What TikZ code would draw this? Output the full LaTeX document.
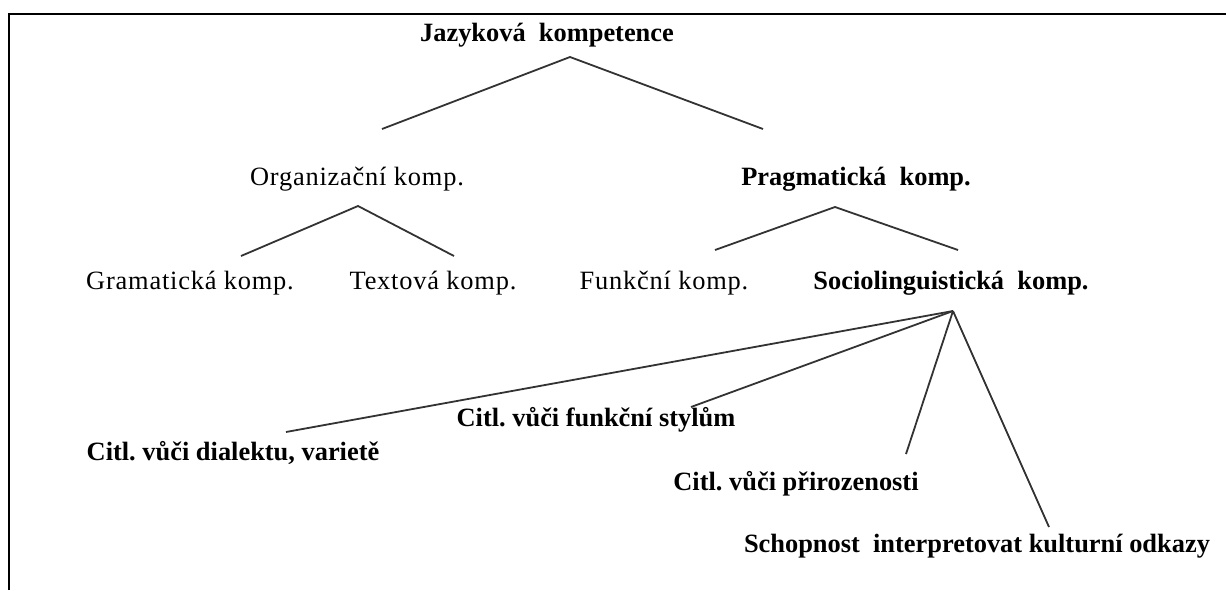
\documentclass[tikz,border=0pt]{standalone}
\usepackage{fontspec}
\setmainfont{Liberation Serif}
\frenchspacing

\begin{document}
\begin{tikzpicture}[x=0.5pt,y=-0.5pt,
    komp/.style={anchor=base, inner sep=0pt, font=\fontsize{13.2}{15}\selectfont\addfontfeature{LetterSpace=3}},
    kompb/.style={anchor=base, inner sep=0pt, font=\fontsize{13.2}{15}\selectfont\bfseries},
    vetev/.style={line width=0.9pt, black!80}]
    \useasboundingbox (0,0) rectangle (1226,590);
    % ramecek
    \draw[line width=1pt] (9,590) -- (9,14) -- (1226,14);

    % texty
    \node[kompb] (jazyk) at (547,41) {Jazyková~ kompetence};
    \node[komp] (organ) at (357,185) {Organizační komp.};
    \node[kompb] (pragm) at (856,185) {Pragmatická~ komp.};
    \node[komp] (gramat) at (190,289) {Gramatická komp.};
    \node[komp] (text) at (433,289) {Textová komp.};
    \node[komp] (funkc) at (664,289) {Funkční komp.};
    \node[kompb] (socio) at (951,289) {Sociolinguistická~ komp.};
    \node[kompb] (dialekt) at (233,460) {Citl. vůči dialektu, varietě};
    \node[kompb] (styl) at (596,426) {Citl. vůči funkční stylům};
    \node[kompb] (priroz) at (796,490) {Citl. vůči přirozenosti};
    \node[kompb] (kultur) at (977,552) {Schopnost~ interpretovat kulturní odkazy};

    % body vetveni
    \coordinate (jazyk-v) at (570,57);
    \coordinate (organ-n) at (382,129);
    \coordinate (pragm-n) at (763,129);
    \coordinate (organ-v) at (358,206);
    \coordinate (gramat-n) at (241,256);
    \coordinate (text-n) at (454,256);
    \coordinate (pragm-v) at (835,207);
    \coordinate (funkc-n) at (715,250);
    \coordinate (socio-n) at (958,250);
    \coordinate (socio-v) at (953,311);
    \coordinate (dialekt-n) at (286,432);
    \coordinate (styl-n) at (691,407);
    \coordinate (priroz-n) at (906,454);
    \coordinate (kultur-n) at (1049,527);

    % vetve
    \draw[vetev] (organ-n) -- (jazyk-v) -- (pragm-n);
    \draw[vetev] (gramat-n) -- (organ-v) -- (text-n);
    \draw[vetev] (funkc-n) -- (pragm-v) -- (socio-n);
    \foreach \cil in {dialekt-n,styl-n,priroz-n,kultur-n}
        \draw[vetev] (socio-v) -- (\cil);
\end{tikzpicture}
\end{document}
